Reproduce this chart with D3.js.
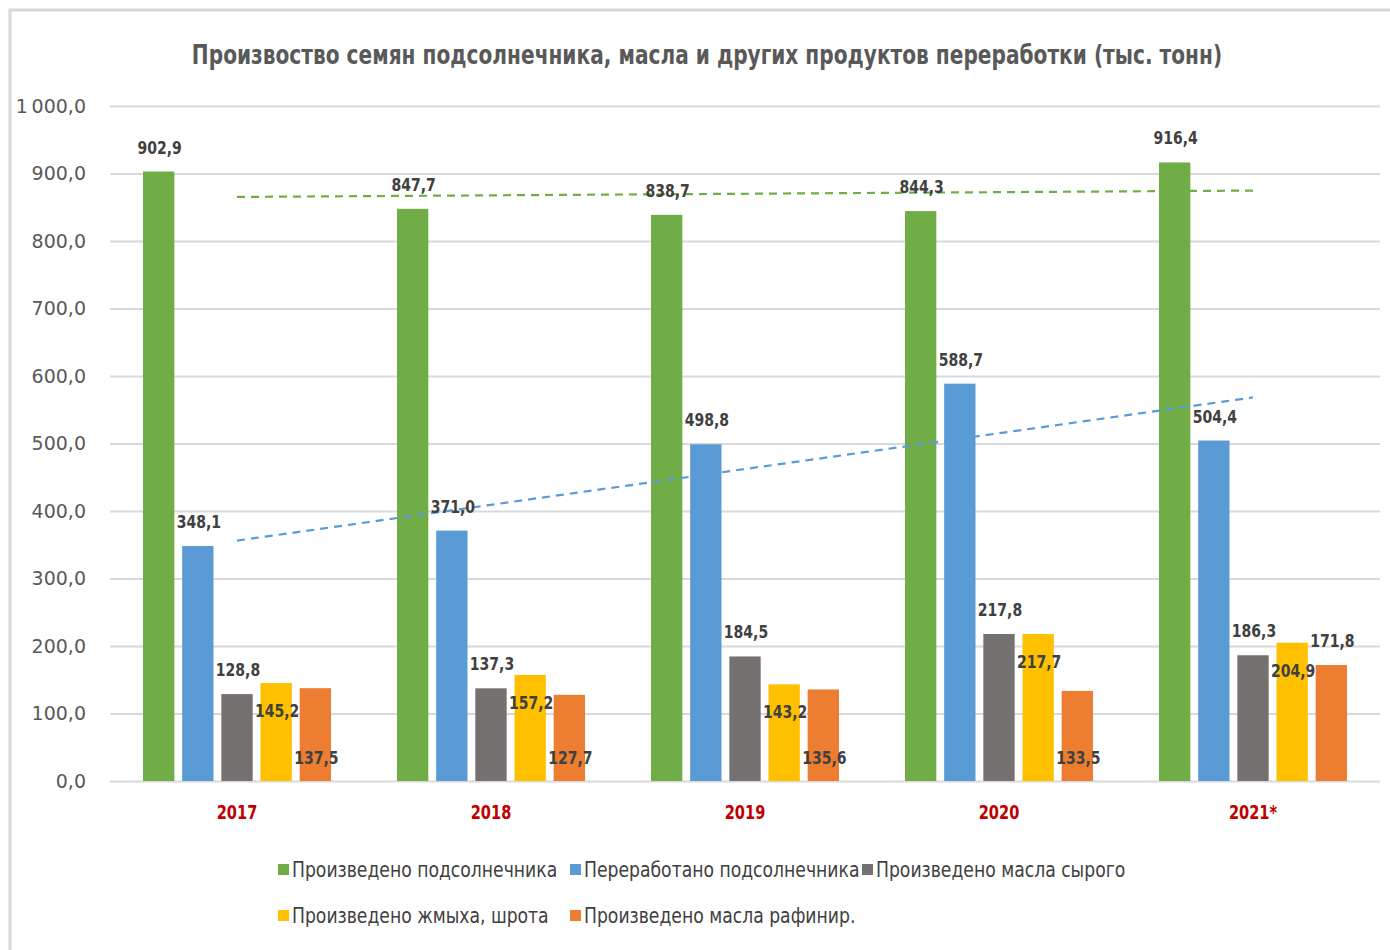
<!DOCTYPE html>
<html>
<head>
<meta charset="utf-8">
<title>Подсолнечник</title>
<script src="https://d3js.org/d3.v7.min.js"></script>
<style>
  body { margin: 0; background: #fff; }
  svg { display: block; }
  text { font-family: "DejaVu Sans", sans-serif; }
</style>
</head>
<body>
<script>
// data
const years = ["2017", "2018", "2019", "2020", "2021*"];
const seriesNames = [
  "Произведено подсолнечника",
  "Переработано подсолнечника",
  "Произведено масла сырого",
  "Произведено жмыха, шрота",
  "Произведено масла рафинир."
];
const grown     = [902.9, 847.7, 838.7, 844.3, 916.4];
const processed = [348.1, 371.0, 498.8, 588.7, 504.4];
const rawOil    = [128.8, 137.3, 184.5, 217.8, 186.3];
const cake      = [145.2, 157.2, 143.2, 217.7, 204.9];
const refined   = [137.5, 127.7, 135.6, 133.5, 171.8];
const yTicks = [0, 100, 200, 300, 400, 500, 600, 700, 800, 900, 1000];
const colors = ["#70ad47", "#5b9bd5", "#767171", "#ffc000", "#ed7d31"];

const values = [grown, processed, rawOil, cake, refined];

const w = 1390, h = 950;
const pLeft = 110, pRight = 1380, pTop = 106, pBottom = 781;

const ru = d3.formatLocale({decimal: ",", thousands: "\u2009", grouping: [3], currency: ["", ""]});
const fmt = ru.format(",.1f");

// no narrow font installed, so squeeze text horizontally
function squeeze(sel, k) {
  sel.each(function() {
    const t = d3.select(this);
    const tx = +t.attr("x") || 0, ty = +t.attr("y") || 0;
    t.attr("x", 0).attr("y", 0)
     .attr("transform", "translate(" + tx + "," + ty + ") scale(" + k + ",1)");
  });
}

const svg = d3.select("body").append("svg")
  .attr("width", w)
  .attr("height", h);

// frame
svg.append("rect")
  .attr("x", 10).attr("y", 10)
  .attr("width", w).attr("height", h)
  .attr("fill", "#fff")
  .attr("stroke", "#d9d9d9")
  .attr("stroke-width", 3);

// title
svg.append("text")
  .attr("x", 707).attr("y", 64)
  .attr("text-anchor", "middle")
  .attr("font-size", 26)
  .attr("font-weight", "bold")
  .attr("fill", "#595959")
  .text("Произвоство семян подсолнечника, масла и других продуктов переработки (тыс. тонн)")
  .call(squeeze, 0.775);

const x = d3.scaleBand().domain(years).range([pLeft, pRight]).padding(0);
const xi = d3.scaleBand().domain(d3.range(5)).range([33, 221]).paddingInner(0.2);
const y = d3.scaleLinear().domain([0, 1000]).range([pBottom, pTop]);

// grid + y axis
const yAxis = d3.axisLeft(y).tickValues(yTicks).tickFormat(fmt).tickSize(-(pRight - pLeft)).tickPadding(24);
const gy = svg.append("g").attr("transform", "translate(" + pLeft + ",0)").call(yAxis);
gy.select(".domain").remove();
gy.attr("font-family", null);
gy.selectAll(".tick line").attr("stroke", "#d9d9d9").attr("stroke-width", 2);
gy.selectAll(".tick text").attr("font-size", 19).attr("fill", "#595959");

// x axis labels
const xAxis = d3.axisBottom(x).tickSize(0).tickPadding(24);
const gx = svg.append("g").attr("transform", "translate(0," + pBottom + ")").call(xAxis);
gx.select(".domain").remove();
gx.attr("font-family", null);
gx.selectAll(".tick text").attr("font-size", 20).attr("font-weight", "bold").attr("fill", "#c00000")
  .call(squeeze, 0.73);

// bars
const rows = [];
values.forEach((arr, s) => arr.forEach((v, i) => rows.push({s: s, year: years[i], v: v})));

svg.append("g").selectAll("rect")
  .data(rows)
  .enter()
  .append("rect")
  .attr("x", d => x(d.year) + xi(d.s))
  .attr("y", d => y(d.v))
  .attr("width", xi.bandwidth())
  .attr("height", d => pBottom - y(d.v))
  .attr("fill", d => colors[d.s]);

// trend lines (linear fit, like excel)
function trend(arr) {
  const n = arr.length, mx = (n - 1) / 2, my = d3.mean(arr);
  let num = 0, den = 0;
  arr.forEach((v, i) => { num += (i - mx) * (v - my); den += (i - mx) * (i - mx); });
  const b = num / den;
  return [my - b * mx, my + b * mx];
}
[[grown, "#70ad47"], [processed, "#5b9bd5"]].forEach(([arr, c]) => {
  const t = trend(arr);
  svg.append("line")
    .attr("x1", x(years[0]) + x.bandwidth() / 2)
    .attr("x2", x(years[4]) + x.bandwidth() / 2)
    .attr("y1", y(t[0]))
    .attr("y2", y(t[1]))
    .attr("stroke", c)
    .attr("stroke-width", 2.2)
    .attr("stroke-dasharray", "8,6");
});

// data labels
function labelY(d) {
  if (d.s === 3) return y(d.v) + 34;
  if (d.s === 4 && d.v < 150) return pBottom - 17;
  return y(d.v) - 18;
}
svg.append("g").selectAll("text")
  .data(rows)
  .enter()
  .append("text")
  .attr("x", d => x(d.year) + xi(d.s) + xi.bandwidth() / 2 + 1)
  .attr("y", labelY)
  .attr("text-anchor", "middle")
  .attr("font-size", 18)
  .attr("font-weight", "bold")
  .attr("fill", "#404040")
  .text(d => fmt(d.v))
  .call(squeeze, 0.78);

// legend
const legendPos = [[278, 870], [570, 870], [862, 870], [278, 916], [570, 916]];
const lg = svg.append("g").selectAll("g")
  .data(seriesNames)
  .enter()
  .append("g")
  .attr("transform", (d, i) => "translate(" + legendPos[i][0] + "," + legendPos[i][1] + ")");
lg.append("rect")
  .attr("x", 0).attr("y", -6)
  .attr("width", 11).attr("height", 11)
  .attr("fill", (d, i) => colors[i]);
lg.append("text")
  .attr("x", 14).attr("y", 7)
  .attr("font-size", 21)
  .attr("fill", "#404040")
  .text(d => d)
  .call(squeeze, 0.82);
</script>
</body>
</html>
